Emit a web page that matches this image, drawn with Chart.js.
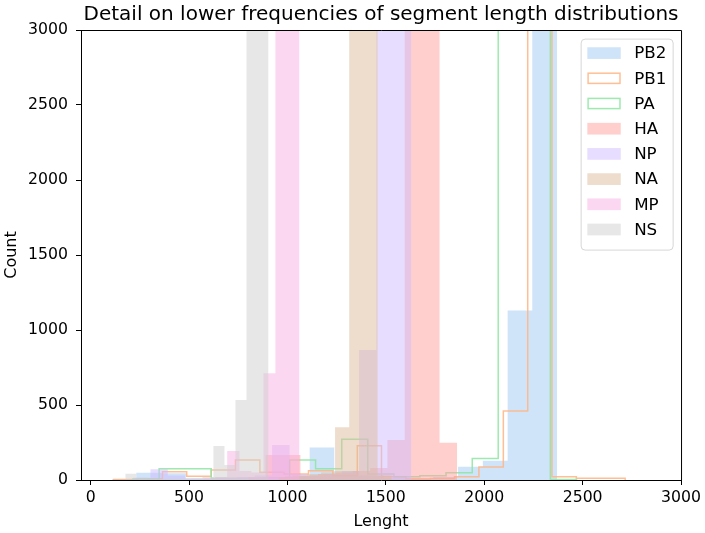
<!DOCTYPE html>
<html>
<head>
<meta charset="utf-8">
<script src="https://cdn.jsdelivr.net/npm/chart.js@4.4.1/dist/chart.umd.min.js"></script>
<style>
  html, body { margin: 0; padding: 0; background: #fff; }
  #wrap { width: 705px; height: 533px; }
</style>
</head>
<body>
<div id="wrap"><canvas id="chart"></canvas></div>
<script>
// bin edges / counts (bins above 3000 are clipped, value is a guess)
const pb2Edges = [107, 232, 358, 484, 610, 735, 861, 987, 1113, 1238, 1364, 1490, 1616, 1741, 1867, 1993, 2119, 2244, 2370];
const pb2Counts = [5, 49, 45, 10, 8, 12, 15, 25, 216, 60, 30, 15, 10, 20, 89, 129, 1130, 9000];

const pb1Edges = [117, 241, 365, 488, 612, 736, 860, 983, 1107, 1231, 1355, 1478, 1602, 1726, 1849, 1973, 2097, 2221, 2344, 2468, 2592, 2716];
const pb1Counts = [3, 8, 55, 25, 67, 133, 51, 40, 62, 29, 229, 22, 7, 10, 22, 86, 460, 9000, 22, 11, 11];

const paEdges = [215, 348, 480, 613, 745, 878, 1011, 1143, 1276, 1408, 1541, 1673, 1806, 1939, 2071, 2204, 2336, 2469];
const paCounts = [7, 75, 75, 12, 12, 15, 133, 75, 271, 40, 22, 29, 49, 144, 9000, 9000, 4];

const haEdges = [801, 889, 978, 1066, 1155, 1243, 1331, 1420, 1508, 1596, 1685, 1773, 1862];
const haCounts = [20, 167, 167, 30, 40, 50, 60, 80, 267, 9000, 9000, 249];

const npEdges = [215, 304, 392, 480, 569, 657, 745, 834, 922, 1011, 1099, 1187, 1276, 1364, 1452, 1541, 1629];
const npCounts = [15, 71, 30, 10, 10, 15, 20, 30, 233, 40, 30, 40, 60, 867, 9000, 9000];

const naEdges = [956, 1027, 1099, 1171, 1242, 1314, 1386, 1458, 1530];
const naCounts = [20, 30, 40, 50, 351, 9000, 9000, 30];

const mpEdges = [572, 633, 694, 756, 817, 878, 939, 1000, 1061];
const mpCounts = [10, 20, 193, 60, 50, 711, 9000, 9000];

const nsEdges = [176, 232, 288, 344, 400, 456, 512, 568, 624, 680, 736, 792, 848, 904];
const nsCounts = [42, 15, 10, 8, 8, 10, 12, 20, 227, 100, 533, 9000, 9000];

const xTickValues = [0, 500, 1000, 1500, 2000, 2500, 3000];
const yTickValues = [0, 500, 1000, 1500, 2000, 2500, 3000];

const FONT = 'DejaVu Sans';

const series = [
    { label: 'PB2', edges: pb2Edges, counts: pb2Counts, color: [161, 201, 244], step: false },
    { label: 'PB1', edges: pb1Edges, counts: pb1Counts, color: [255, 180, 130], step: true },
    { label: 'PA', edges: paEdges, counts: paCounts, color: [141, 229, 161], step: true },
    { label: 'HA', edges: haEdges, counts: haCounts, color: [255, 159, 155], step: false },
    { label: 'NP', edges: npEdges, counts: npCounts, color: [208, 187, 255], step: false },
    { label: 'NA', edges: naEdges, counts: naCounts, color: [222, 187, 155], step: false },
    { label: 'MP', edges: mpEdges, counts: mpCounts, color: [250, 176, 228], step: false },
    { label: 'NS', edges: nsEdges, counts: nsCounts, color: [207, 207, 207], step: false }
];

const LINE_ALPHA = 0.85;
const rgba = (c, a) => `rgba(${c[0]}, ${c[1]}, ${c[2]}, ${a})`;

function histPoints(edges, counts) {
    const pts = [{ x: edges[0], y: 0 }];
    counts.forEach((c, i) => pts.push({ x: edges[i], y: c }));
    pts.push({ x: edges[edges.length - 1], y: 0 });
    return pts;
}

// top + right spines
const frame = {
    id: 'frame',
    afterDraw(chart) {
        const { ctx, chartArea: a } = chart;
        ctx.save();
        ctx.strokeStyle = '#000';
        ctx.lineWidth = 1;
        ctx.beginPath();
        ctx.moveTo(a.left, a.top + 0.5);
        ctx.lineTo(a.right + 0.5, a.top + 0.5);
        ctx.lineTo(a.right + 0.5, a.bottom);
        ctx.stroke();
        ctx.restore();
    }
};

// matplotlib-like legend in the upper right corner
const boxLegend = {
    id: 'boxLegend',
    afterDraw(chart) {
        const { ctx, chartArea: a } = chart;
        const fs = 16.7, row = 25.2;
        const w = 92, h = 211;
        const x0 = a.right - 8.4 - w, y0 = a.top + 8.6;
        ctx.save();
        ctx.beginPath();
        ctx.roundRect(x0 + 0.5, y0 + 0.5, w, h, 4);
        ctx.fillStyle = 'rgba(255,255,255,0.8)';
        ctx.fill();
        ctx.strokeStyle = 'rgba(204,204,204,0.8)';
        ctx.lineWidth = 1;
        ctx.stroke();
        ctx.font = `${fs}px "${FONT}"`;
        ctx.textBaseline = 'middle';
        series.forEach((s, i) => {
            const cy = y0 + 14.5 + i * row;
            const sx = x0 + 6.7, sw = 33.4, sh = 11.7;
            if (s.step) {
                ctx.strokeStyle = rgba(s.color, LINE_ALPHA);
                ctx.lineWidth = 1.5;
                ctx.strokeRect(sx + 0.75, cy - sh / 2 + 0.75, sw - 1.5, sh - 1.5);
            } else {
                ctx.fillStyle = rgba(s.color, 0.5);
                ctx.fillRect(sx, cy - sh / 2, sw, sh);
            }
            ctx.fillStyle = '#000';
            ctx.fillText(s.label, sx + sw + 13.4, cy + 1);
        });
        ctx.restore();
    }
};

Chart.defaults.color = '#000';
Chart.defaults.font.family = FONT;

new Chart(document.getElementById('chart'), {
    type: 'line',
    data: {
        datasets: series.map((s, i) => ({
            label: s.label,
            data: histPoints(s.edges, s.counts),
            stepped: 'before',
            pointRadius: 0,
            pointHoverRadius: 0,
            borderWidth: s.step ? 1.5 : 0,
            borderColor: s.step ? rgba(s.color, LINE_ALPHA) : 'rgba(0,0,0,0)',
            backgroundColor: rgba(s.color, 0.5),
            fill: s.step ? false : 'origin',
            order: series.length - i
        }))
    },
    options: {
        responsive: true,
        maintainAspectRatio: false,
        animation: false,
        layout: { padding: { top: 0, right: 21, left: 0, bottom: 0 } },
        plugins: {
            legend: { display: false },
            tooltip: { enabled: false },
            title: {
                display: true,
                fullSize: false,
                text: 'Detail on lower frequencies of segment length distributions',
                font: { size: 20, weight: 'normal' },
                color: '#000',
                padding: { top: 2.5, bottom: 3.5 }
            }
        },
        scales: {
            x: {
                type: 'linear',
                min: -49,
                max: 3000,
                afterBuildTicks: axis => { axis.ticks = xTickValues.map(v => ({ value: v })); },
                afterFit: axis => { axis.height = 53; },
                ticks: { font: { size: 15.7 }, padding: 4, maxRotation: 0, callback: v => String(v) },
                grid: { drawOnChartArea: false, drawTicks: true, tickLength: 5, color: '#000' },
                border: { display: true, color: '#000', width: 1 },
                title: { display: true, text: 'Lenght', font: { size: 16 }, padding: { top: 2, bottom: 1.5 } }
            },
            y: {
                min: 0,
                max: 3000,
                afterBuildTicks: axis => { axis.ticks = yTickValues.map(v => ({ value: v })); },
                afterFit: axis => { axis.width = 81; },
                ticks: { font: { size: 15.7 }, padding: 8, callback: v => String(v) },
                grid: { drawOnChartArea: false, drawTicks: true, tickLength: 5, color: '#000' },
                border: { display: true, color: '#000', width: 1 },
                title: { display: true, text: 'Count', font: { size: 16 }, padding: { top: 2.5, bottom: 2 } }
            }
        }
    },
    plugins: [frame, boxLegend]
});
</script>
</body>
</html>
